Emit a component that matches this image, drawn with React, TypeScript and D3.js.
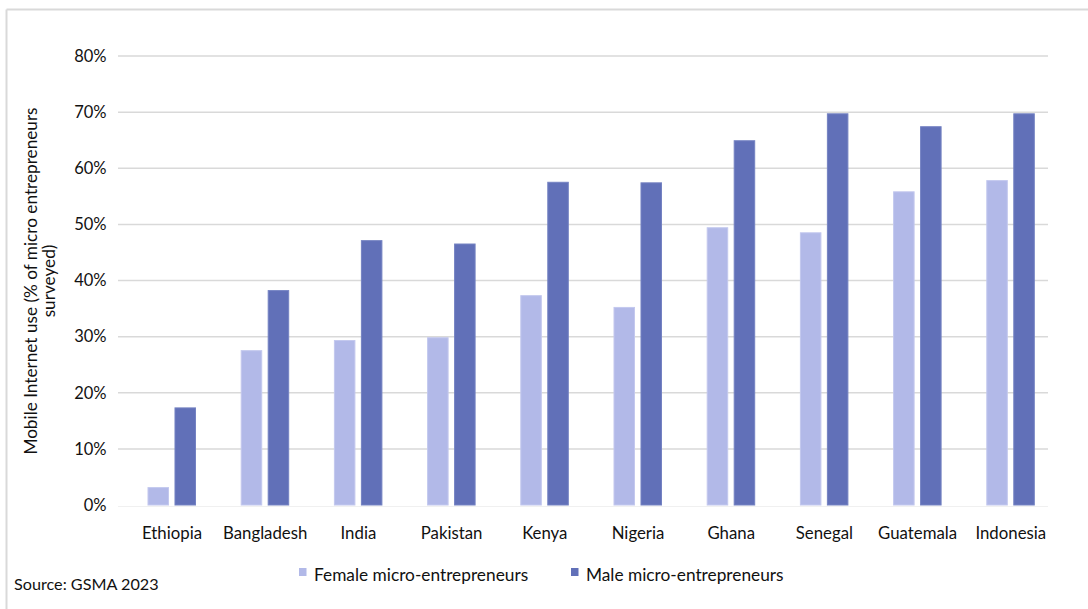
import React from "react";
import * as d3 from "d3";

const countries = ["Ethiopia", "Bangladesh", "India", "Pakistan", "Kenya", "Nigeria", "Ghana", "Senegal", "Guatemala", "Indonesia"];
const femaleValues = [3.1, 27.5, 29.3, 29.8, 37.3, 35.2, 49.4, 48.5, 55.8, 57.8];
const maleValues = [17.3, 38.2, 47.1, 46.5, 57.5, 57.4, 64.9, 69.7, 67.4, 69.7];
const yTicks = [0, 10, 20, 30, 40, 50, 60, 70, 80];
const seriesKeys = ["female", "male"];
const seriesLabels = ["Female micro-entrepreneurs", "Male micro-entrepreneurs"];
const seriesColors = ["#b2b9e8", "#6170b8"];
const seriesStroke = ["#c3c8ee", "#7482c2"];
const yTitleLines = ["Mobile Internet use (% of micro entrepreneurs", "surveyed)"];
const sourceText = "Source: GSMA 2023";

const W = 1088;
const H = 609;
const FONT = "Lato, 'Noto Sans', sans-serif";

export default function App() {
  const x = d3.scaleBand<string>().domain(countries).range([125.4, 1057.4]).padding(0);
  const inner = d3.scaleBand<string>().domain(seriesKeys).range([-24, 23.5]).paddingInner(0.24).paddingOuter(0);
  const y = d3.scaleLinear().domain([0, 80]).range([505, 56]);
  const data = [femaleValues, maleValues];

  return (
    <svg width={W} height={H} style={{ position: "absolute", left: 0, top: 0, background: "#fff" }} fontFamily={FONT}>
      <rect x={0} y={0} width={W} height={H} fill="#fff" />
      {/* frame */}
      <line x1={6.5} x2={W} y1={9.5} y2={9.5} stroke="#d9d9d9" strokeWidth={2} />
      <line x1={6.5} x2={6.5} y1={9.5} y2={H} stroke="#d9d9d9" strokeWidth={2} />

      {/* gridlines */}
      {yTicks.map((t) => (
        <g key={t}>
          {t > 0 && (
            <line x1={118} x2={1048} y1={y(t)} y2={y(t)} stroke="#d9d9d9" strokeWidth={1.5} />
          )}
          <text x={106.5} y={y(t)} dy="0.35em" textAnchor="end" fontSize={16.5} fill="#111">
            {t}%
          </text>
        </g>
      ))}
      <line x1={118} x2={1048} y1={y(0) + 1.5} y2={y(0) + 1.5} stroke="#f0f0f0" strokeWidth={1} />

      {/* bars */}
      {countries.map((c, i) => {
        const cx = (x(c) as number) + x.bandwidth() / 2;
        return (
          <g key={c}>
            {seriesKeys.map((k, si) => {
              const v = data[si][i];
              return (
                <rect
                  key={k}
                  x={cx + (inner(k) as number)}
                  y={y(v)}
                  width={inner.bandwidth()}
                  height={y(0) - y(v)}
                  fill={seriesColors[si]}
                  stroke={seriesStroke[si]}
                  strokeWidth={1}
                />
              );
            })}
            <text x={cx} y={538.5} textAnchor="middle" fontSize={16.8} fill="#111">
              {c}
            </text>
          </g>
        );
      })}

      {/* y axis title */}
      <g transform={`translate(31, 281) rotate(-90)`}>
        <text x={0} y={0} dy="0.35em" textAnchor="middle" fontSize={17.2} fill="#111">
          {yTitleLines[0]}
        </text>
        <text x={0} y={17.5} dy="0.35em" textAnchor="middle" fontSize={17.2} fill="#111">
          {yTitleLines[1]}
        </text>
      </g>

      {/* legend */}
      {seriesLabels.map((lab, si) => {
        const lx = [299, 571][si];
        return (
          <g key={lab}>
            <rect x={lx} y={568} width={7.5} height={8} fill={seriesColors[si]} />
            <text x={lx + 15} y={581} fontSize={17.3} fill="#111">
              {lab}
            </text>
          </g>
        );
      })}

      {/* source */}
      <text x={14} y={590} fontSize={16.2} fill="#111">
        {sourceText}
      </text>
    </svg>
  );
}
